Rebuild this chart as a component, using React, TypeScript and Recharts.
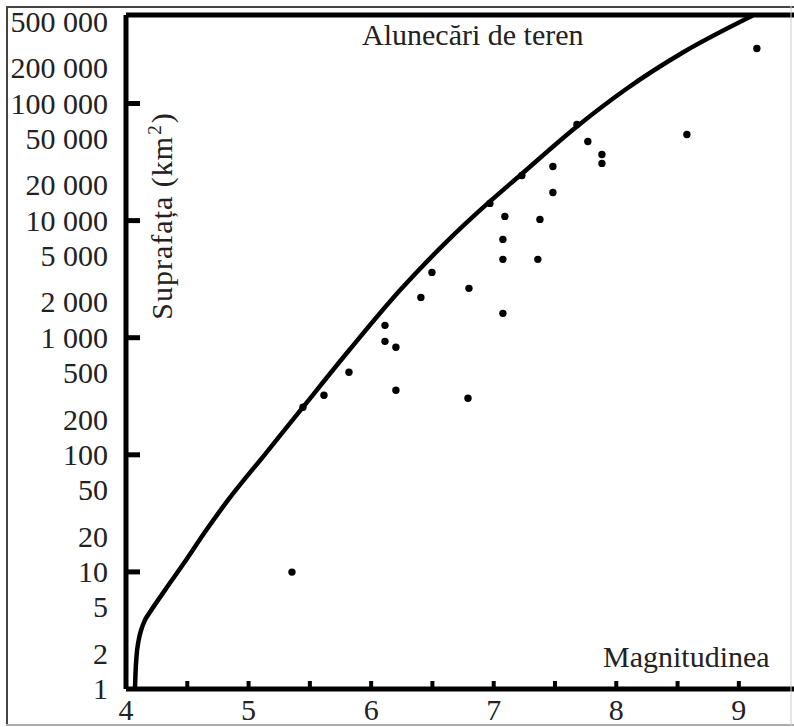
import React from 'react';
import {
  ComposedChart,
  Line,
  Scatter,
  XAxis,
  YAxis,
  ReferenceLine,
} from 'recharts';

// envelope curve (magnitude -> area in km²)
const curveMag = [4.073, 4.078, 4.086, 4.102, 4.126, 4.155, 4.196, 4.318, 4.473, 4.644, 4.832, 5.134, 5.444, 5.827, 6.235, 6.602, 6.969, 7.214, 7.679, 8.087, 8.543, 9.114];
const curveArea = [1, 1.4, 1.91, 2.57, 3.25, 3.88, 4.54, 6.99, 11.9, 21.9, 41, 101, 255, 796, 2537, 6391, 14580, 24300, 63640, 134300, 272400, 563600];

// observed landslide areas
const pointMag = [9.147, 8.576, 7.768, 7.883, 7.883, 7.483, 7.23, 7.483, 6.969, 7.091, 7.377, 7.075, 7.075, 7.36, 6.496, 6.406, 6.798, 7.075, 6.113, 6.113, 6.202, 5.819, 5.615, 6.202, 6.79, 5.354, 7.679, 5.444];
const pointArea = [294600, 54400, 47400, 36700, 30800, 29000, 24300, 17400, 14030, 10860, 10240, 6910, 4670, 4670, 3610, 2210, 2640, 1615, 1275, 931, 828, 507, 323, 356, 304, 9.96, 66200, 255];

const xTicks = [4, 4.5, 5, 5.5, 6, 6.5, 7, 7.5, 8, 8.5, 9];
const yTicks = [1, 2, 5, 10, 20, 50, 100, 200, 500, 1000, 2000, 5000, 10000, 20000, 50000, 100000, 200000, 500000];
const Y_MAX = 570000;

const curveData = curveMag.map((m, i) => ({ m, a: curveArea[i] }));
const pointData = pointMag.map((m, i) => ({ m, a: pointArea[i] }));

const FONT = '"Liberation Serif", "Times New Roman", serif';

const fmt = (n: number) => n.toString().replace(/\B(?=(\d{3})+(?!\d))/g, ' ');

const XTick = (props: any) => {
  const { x, y, payload } = props;
  const v = payload.value;
  return (
    <g>
      {v > 4 && <line x1={x} x2={x} y1={y - 2} y2={y - 8} stroke="#000" strokeWidth={4} />}
      {Number.isInteger(v) && (
        <text x={x} y={y + 31} textAnchor="middle" fontFamily={FONT} fontSize={30} fill="#222">
          {v}
        </text>
      )}
    </g>
  );
};

const YTick = (props: any) => {
  const { x, y, payload } = props;
  const v = payload.value;
  const major = [10, 100, 1000, 10000, 100000].includes(v);
  return (
    <g>
      {major && <line x1={x} x2={x + 14} y1={y} y2={y} stroke="#000" strokeWidth={5} />}
      <text x={x - 18} y={y + 10} textAnchor="end" fontFamily={FONT} fontSize={30} fill="#222">
        {fmt(v)}
      </text>
    </g>
  );
};

const Dot = (props: any) => <circle cx={props.cx} cy={props.cy} r={3.7} fill="#000" />;

export default function App() {
  return (
    <div style={{ position: 'relative', width: 794, height: 727, background: '#fff' }}>
      <style>{'body{margin:0}'}</style>
      <ComposedChart width={794} height={727} margin={{ top: 15, right: 0, bottom: 0, left: 0 }}>
        <XAxis
          type="number"
          dataKey="m"
          domain={[4, 9.45]}
          ticks={xTicks}
          interval={0}
          allowDataOverflow
          height={38}
          tickSize={0}
          tickMargin={0}
          tickLine={false}
          tick={<XTick />}
          axisLine={{ stroke: '#000', strokeWidth: 5 }}
        />
        <YAxis
          type="number"
          dataKey="a"
          scale="log"
          domain={[1, Y_MAX]}
          ticks={yTicks}
          interval={0}
          allowDataOverflow
          width={126}
          tickSize={0}
          tickMargin={0}
          tickLine={false}
          tick={<YTick />}
          axisLine={{ stroke: '#000', strokeWidth: 5 }}
        />
        <ReferenceLine y={Y_MAX} stroke="#000" strokeWidth={5} ifOverflow="visible" />
        <Line
          data={curveData}
          dataKey="a"
          type="monotone"
          stroke="#000"
          strokeWidth={4.5}
          dot={false}
          activeDot={false}
          isAnimationActive={false}
        />
        <Scatter data={pointData} dataKey="a" fill="#000" shape={<Dot />} isAnimationActive={false} />
        <text x={362} y={45} fontFamily={FONT} fontSize={30} fill="#222">
          Alunecări de teren
        </text>
        <text x={603} y={667} fontFamily={FONT} fontSize={30} fill="#222">
          Magnitudinea
        </text>
        <text
          x={172}
          y={216}
          transform="rotate(-90 172 216)"
          textAnchor="middle"
          fontFamily={FONT}
          fontSize={30}
          letterSpacing={1}
          fill="#222"
        >
          Suprafața (km<tspan dx={1} dy={-11} fontSize={19}>2</tspan><tspan dx={1} dy={11}>)</tspan>
        </text>
      </ComposedChart>
      <svg width={794} height={727} style={{ position: 'absolute', left: 0, top: 0, pointerEvents: 'none' }}>
        <line x1={6} x2={794} y1={7} y2={7} stroke="#444" strokeWidth={2} />
        <line x1={7} x2={7} y1={6} y2={726} stroke="#444" strokeWidth={2} />
        <line x1={6} x2={794} y1={725} y2={725} stroke="#aaa" strokeWidth={2} />
        <line x1={791} x2={791} y1={6} y2={726} stroke="#ccc" strokeWidth={1} />
      </svg>
    </div>
  );
}
